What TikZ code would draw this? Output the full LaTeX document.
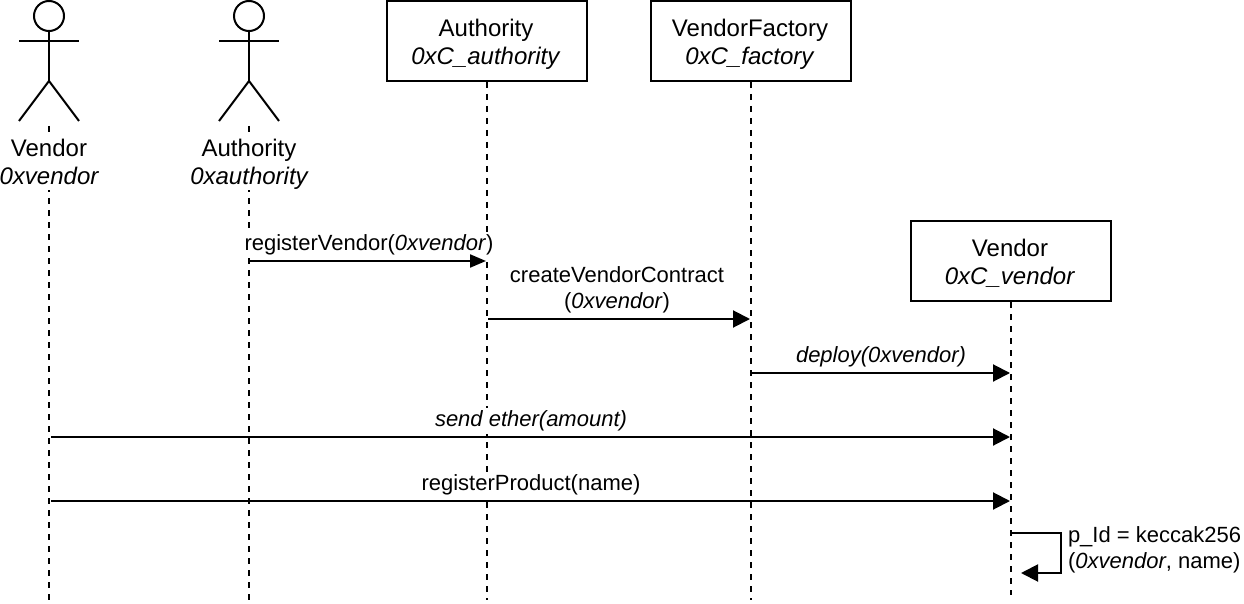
\documentclass[tikz,border=0pt]{standalone}
\usepackage{fontspec}
\setmainfont{Liberation Sans}
\usetikzlibrary{arrows.meta}
\newcommand{\ls}{\strut}
\newcommand{\lowstrut}{\rule[-5pt]{0pt}{19.6pt}}
\newcommand{\boxtext}[2]{\rule{0pt}{27.6pt}#1\kern2pt\\\ls\textit{#2}\kern2pt}
\tikzset{
  lifeline/.style={dash pattern=on 6pt off 6pt,line width=2pt},
  objbox/.style={draw,line width=2pt,fill=white,minimum width=200pt,minimum height=80pt,inner sep=0pt,align=center,font=\fontsize{24}{28}\selectfont},
  actorlabel/.style={fill=white,inner sep=0pt,align=center,anchor=north,font=\fontsize{24}{28}\selectfont},
  msglabel/.style={fill=white,inner xsep=1pt,inner ysep=0pt,align=center,font=\fontsize{22}{26}\selectfont},
  selflabel/.style={inner sep=0pt,align=left,anchor=west,font=\fontsize{22}{26}\selectfont},
  msg/.style={-{Triangle[length=17pt,width=17pt]},line width=2pt,shorten >=1pt},
  smallmsg/.style={-{Triangle[length=16pt,width=13pt]},line width=2pt,shorten >=1pt},
  head/.style={circle,draw,line width=2pt,fill=white,minimum size=30pt,inner sep=0pt},
}
\begin{document}
\begin{tikzpicture}[x=1pt,y=-1pt,line width=2pt]
\useasboundingbox (0,0) rectangle (1244,604);
% lifeline ends
\coordinate (e1) at (49,600);
\coordinate (e2) at (249,600);
\coordinate (e3) at (487,600);
\coordinate (e4) at (751,600);
\coordinate (e5) at (1011,595);
% actors
\node[head] (h1) at (49,16) {};
\node[head] (h2) at (249,16) {};
\coordinate (neck1) at (49,41); \coordinate (neck2) at (249,41);
\coordinate (hip1) at (49,81); \coordinate (hip2) at (249,81);
\coordinate (foot1) at (49,121); \coordinate (foot2) at (249,121);
% boxes
\node[objbox] (b3) at (487,41) {\boxtext{Authority}{0xC\_authority}};
\node[objbox] (b4) at (751,41) {\boxtext{VendorFactory}{0xC\_factory}};
\node[objbox] (b5) at (1011,261) {\boxtext{Vendor}{0xC\_vendor}};
% lifelines
\draw[lifeline] (foot1) ++(0,5) -- (e1);
\draw[lifeline] (foot2) ++(0,5) -- (e2);
\draw[lifeline] (b3.south) -- (e3);
\draw[lifeline] (b4.south) -- (e4);
\draw[lifeline] (b5.south) -- (e5);
% actor bodies
\foreach \i in {1,2}{
  \draw (h\i.south) -- (hip\i);
  \draw ([xshift=-30pt]neck\i) -- ([xshift=30pt]neck\i);
  \draw ([xshift=-30pt]foot\i) -- (hip\i) -- ([xshift=30pt]foot\i);
}
\node[actorlabel] (l1) at (49,136) {\ls Vendor\\\lowstrut\itshape 0xvendor};
\node[actorlabel] (l2) at (249,136) {\ls Authority\\\lowstrut\itshape 0xauthority};
% anchors on lifelines
\coordinate (m1a) at (250,261); \coordinate (m1b) at (487,261);
\coordinate (m2a) at (488,319); \coordinate (m2b) at (751,319);
\coordinate (m3a) at (752,373); \coordinate (m3b) at (1011,373);
\coordinate (m4a) at (51,437); \coordinate (m4b) at (1011,437);
\coordinate (m5a) at (51,501); \coordinate (m5b) at (1011,501);
\coordinate (s1) at (1011,533); \coordinate (s2) at (1061,533);
\coordinate (s3) at (1061,573); \coordinate (s4) at (1021,573);
% messages
\node[msglabel] (t1) at (369,245) {\ls registerVendor(\textit{0xvendor})};
\node[msglabel] (t2) at (617,290) {\ls createVendorContract\\\ls(\textit{0xvendor})};
\node[msglabel] (t3) at (881,357) {\ls\textit{deploy(0xvendor)}};
\node[msglabel] (t4) at (531,421) {\ls\textit{send ether(amount)}};
\node[msglabel] (t5) at (531,485) {\ls registerProduct(name)};
\node[selflabel] (t6) at (1067,550) {\ls p\_Id = keccak256\\\ls(\textit{0xvendor}, name)};
\draw[smallmsg] (m1a) -- (m1b);
\draw[msg] (m2a) -- (m2b);
\draw[msg] (m3a) -- (m3b);
\draw[msg] (m4a) -- (m4b);
\draw[msg] (m5a) -- (m5b);
\draw[-{Triangle[length=17pt,width=17pt]},line width=2pt] (s1) -- (s2) -- (s3) -- (s4);
\end{tikzpicture}
\end{document}
